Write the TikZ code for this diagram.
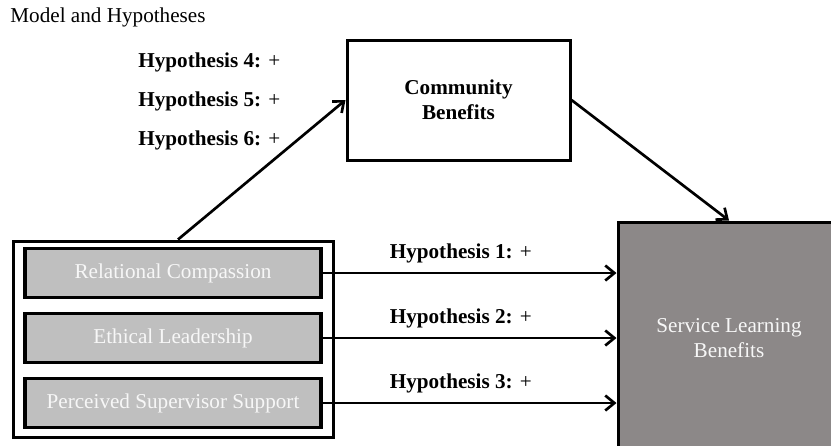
\documentclass[tikz,border=0pt]{standalone}
\usepackage{fontspec}
\setmainfont{Liberation Serif}
\usetikzlibrary{positioning,arrows.meta}
\definecolor{grisclair}{HTML}{BFBFBF}
\definecolor{grisfonce}{HTML}{8C8888}
\tikzset{
  boite/.style={draw, line width=1.8pt, align=center, font=\bfseries},
  facteur/.style={draw, line width=2pt, fill=grisclair, text=white!94!gray,
    minimum width=177.6pt, minimum height=29.4pt},
  fleche/.style={-{Straight Barb[length=5.5pt,width=9pt]}, line width=1.6pt},
  hyp/.style={font=\bfseries}
}
\begin{document}
\fontsize{12.7}{15}\selectfont
\begin{tikzpicture}[x=0.6pt, y=-0.6pt]
  \useasboundingbox (0,0) rectangle (831,445);
  % Titre
  \node[anchor=west] (titre) at (3,17) {Model and Hypotheses};

  % Variables indépendantes
  \node[draw, line width=1.8pt, minimum width=192pt, minimum height=117.6pt] (bloc) at (173,339) {};
  \node[facteur] (rc) at (173,273) {Relational Compassion};
  \node[facteur] (el) at (173,338) {Ethical Leadership};
  \node[facteur] (pss) at (173,403) {Perceived Supervisor Support};

  % Médiateur et variable dépendante
  \node[boite, minimum width=133.8pt, minimum height=72pt] (cb) at (458.5,100) {Community\\Benefits};
  \node[draw, line width=1.8pt, fill=grisfonce, text=white!94!gray, align=center,
    minimum width=133.2pt, minimum height=139.2pt] (slb) at (729,338) {Service Learning\\Benefits};

  % Flèches
  \draw[fleche] ([xshift=3pt]bloc.north) -- (cb.west);
  \draw[fleche] (cb.east) -- (slb.north);
  \draw[fleche] (rc.east) -- (rc.east -| slb.west) node[pos=0.47, above=1pt, hyp] (h1) {Hypothesis 1: \normalfont+};
  \draw[fleche] (el.east) -- (el.east -| slb.west) node[pos=0.47, above=1pt, hyp] (h2) {Hypothesis 2: \normalfont+};
  \draw[fleche] (pss.east) -- (pss.east -| slb.west) node[pos=0.47, above=1pt, hyp] (h3) {Hypothesis 3: \normalfont+};

  % Hypothèses 4 à 6
  \node[hyp, anchor=west] (h4) at (131,62) {Hypothesis 4: \normalfont+};
  \node[hyp, anchor=west] (h5) at (131,101) {Hypothesis 5: \normalfont+};
  \node[hyp, anchor=west] (h6) at (131,140) {Hypothesis 6: \normalfont+};
\end{tikzpicture}
\end{document}
